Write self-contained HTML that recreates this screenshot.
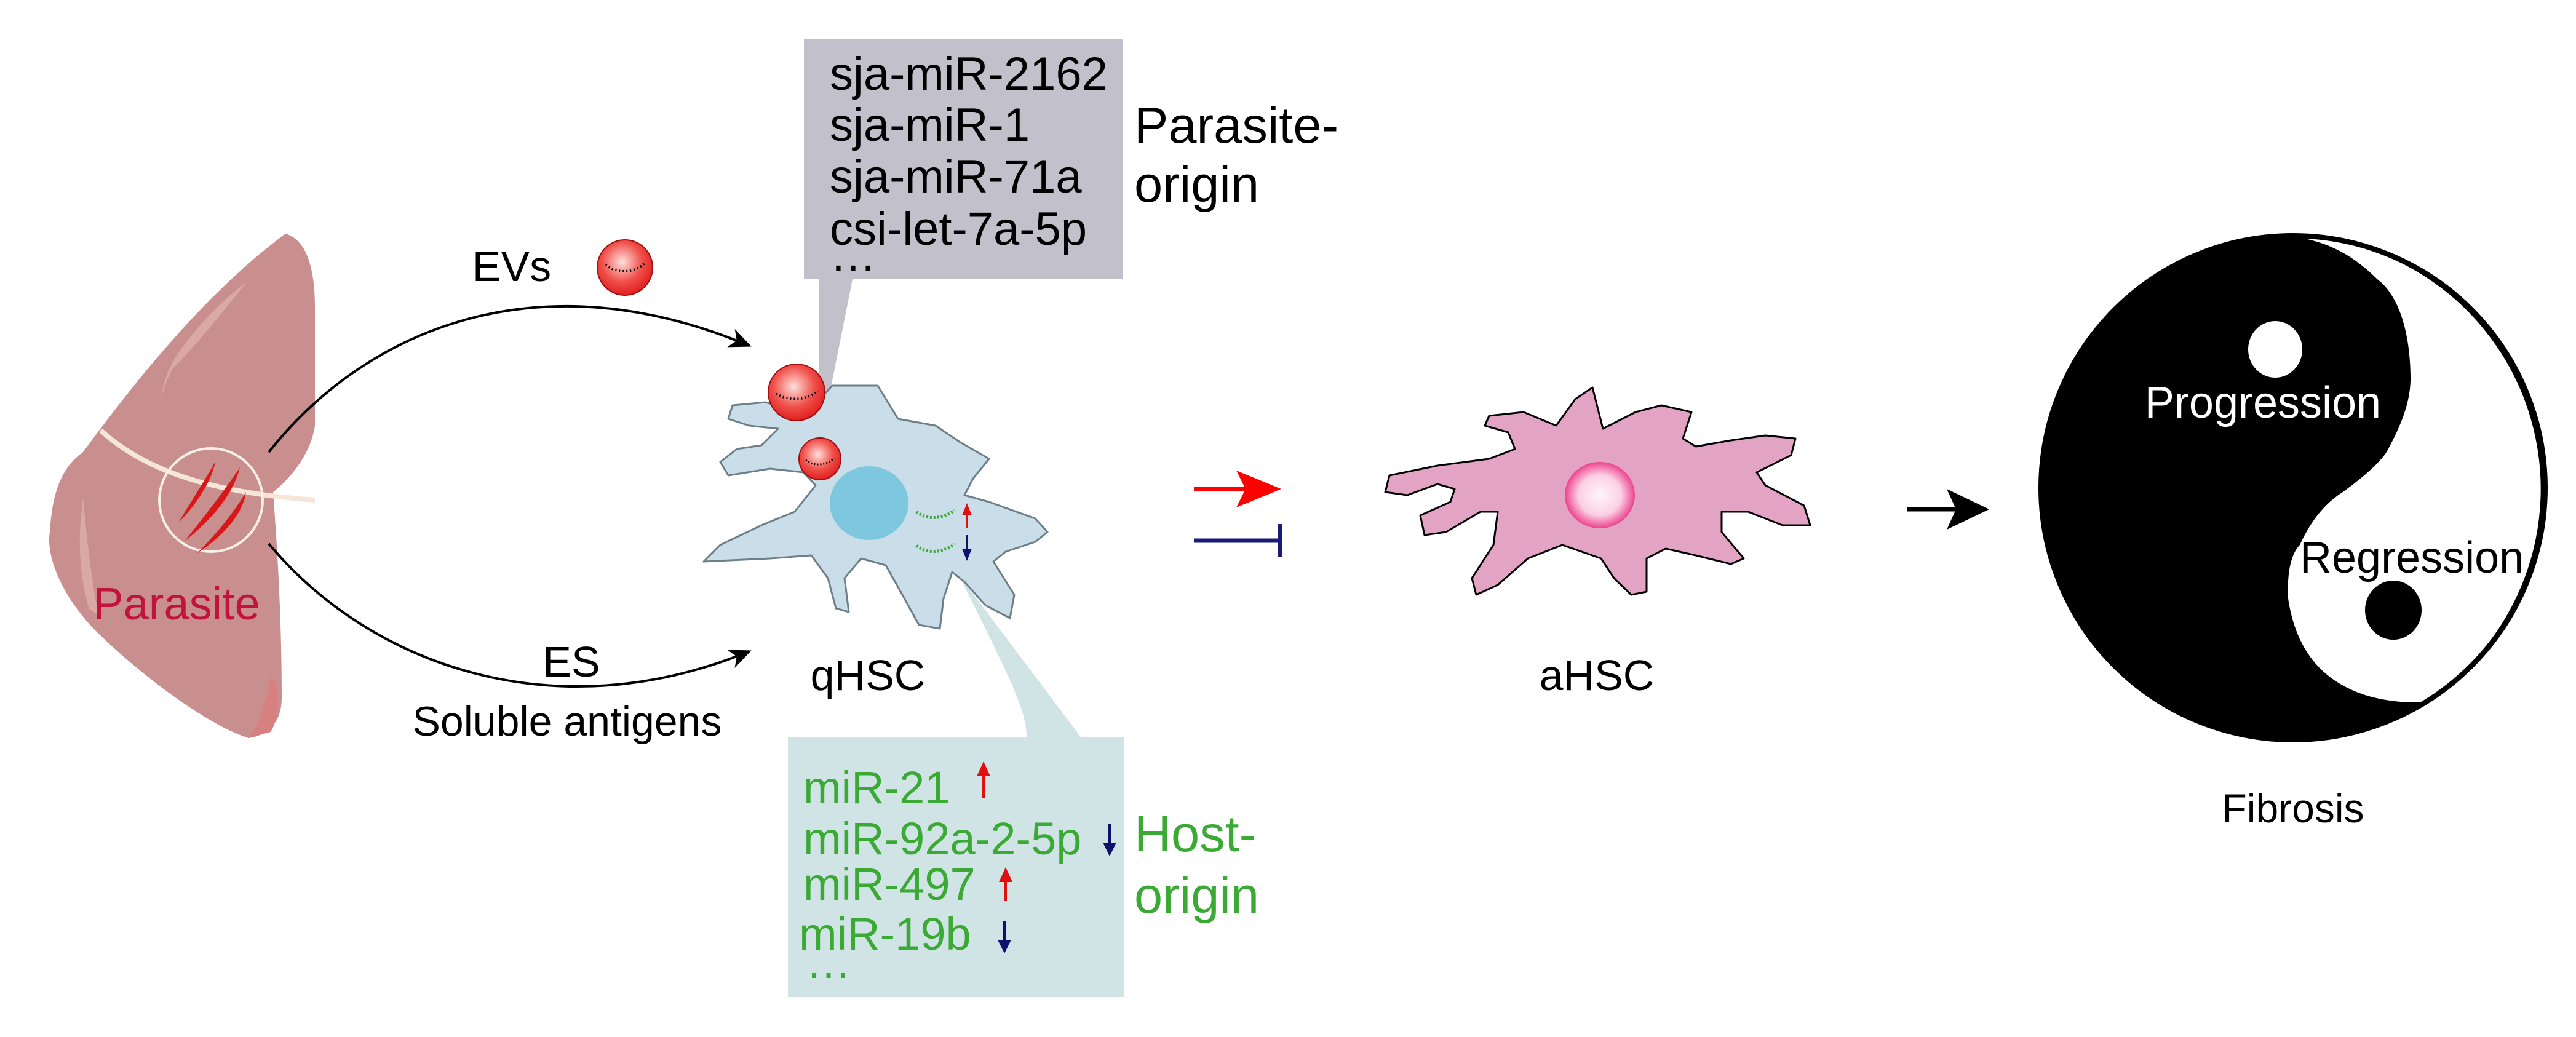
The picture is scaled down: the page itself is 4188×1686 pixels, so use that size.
<!DOCTYPE html>
<html><head><meta charset="utf-8"><style>
html,body{margin:0;padding:0;background:#fff;}
svg{display:block;}
text{font-family:"Liberation Sans",Arial,sans-serif;}
</style></head><body>
<svg width="4188" height="1686" viewBox="0 0 4188 1686" xmlns="http://www.w3.org/2000/svg">
<defs>
<radialGradient id="ev" cx="45%" cy="40%" r="60%"><stop offset="0" stop-color="#fde0dc"/><stop offset="0.6" stop-color="#f0504a"/><stop offset="1" stop-color="#e02020"/></radialGradient>
<radialGradient id="nuc" cx="50%" cy="50%" r="55%"><stop offset="0" stop-color="#fff6fa"/><stop offset="0.55" stop-color="#fbd0e4"/><stop offset="1" stop-color="#e8207a"/></radialGradient>
<marker id="ah" markerWidth="36" markerHeight="32" refX="32" refY="16" orient="auto" markerUnits="userSpaceOnUse" viewBox="0 0 36 32"><path d="M0,0 L36,16 L0,32 L10,16 z" fill="#000"/></marker>
</defs>

<!-- Liver -->
<path d="M464,380 C500,390 512,440 512,500 L512,692 C505,740 470,780 444,800 C450,880 458,1000 458,1135 C458,1170 440,1195 404,1200 C340,1180 230,1100 150,1020 C95,960 75,900 81,865 C85,800 100,760 135,735 C220,620 330,480 464,380 z" fill="#c98f8f"/>
<path d="M300,560 C330,520 370,480 400,460 C360,510 320,560 280,600 C270,620 262,640 262,660 C262,620 280,585 300,560z" fill="#dba9a4"/>
<path d="M145,990 C130,940 125,880 135,810 C140,860 145,920 160,1000z" fill="#dba9a4"/>
<path d="M404,1200 C420,1180 430,1150 440,1100 C455,1110 458,1160 440,1190z" fill="#d78080"/>
<path d="M164,700 C230,760 330,800 512,813" stroke="#f5e6d8" stroke-width="8" fill="none"/>
<circle cx="343" cy="813" r="84" fill="none" stroke="#f5efe6" stroke-width="4"/>
<path d="M290,850 C320,800 340,770 350,750 C345,780 320,820 290,850z" fill="#d81818"/>
<path d="M300,880 C340,830 370,790 390,760 C380,800 350,840 300,880z" fill="#d81818"/>
<path d="M320,900 C360,860 385,825 400,800 C395,835 365,870 320,900z" fill="#d81818"/>
<text x="287" y="1007" font-size="74" fill="#c0143c" text-anchor="middle">Parasite</text>

<!-- curved arrows -->
<path d="M437,735 C600,530 880,420 1218,562" stroke="#000" stroke-width="4" fill="none" marker-end="url(#ah)"/>
<path d="M437,884 C600,1080 900,1190 1218,1059" stroke="#000" stroke-width="4" fill="none" marker-end="url(#ah)"/>
<text x="832" y="457" font-size="70" text-anchor="middle">EVs</text>
<circle cx="1016" cy="435" r="45" fill="url(#ev)" stroke="#a01010" stroke-width="2"/>
<path d="M985,430 C1000,445 1030,445 1048,428" stroke="#000" stroke-width="4" fill="none" stroke-dasharray="2 4"/>
<text x="929" y="1100" font-size="70" text-anchor="middle">ES</text>
<text x="922" y="1196" font-size="68" text-anchor="middle">Soluble antigens</text>

<!-- parasite-origin box -->
<path d="M1307,63 L1825,63 L1825,454 L1386,454 L1330,734 L1332,454 L1307,454 z" fill="#c1c0cb"/>
<g font-size="76" fill="#000">
<text x="1349" y="146">sja-miR-2162</text>
<text x="1349" y="229">sja-miR-1</text>
<text x="1349" y="313">sja-miR-71a</text>
<text x="1349" y="398">csi-let-7a-5p</text>
<text x="1349" y="440">…</text>
</g>
<text x="1844" y="232" font-size="83">Parasite-</text>
<text x="1844" y="328" font-size="83">origin</text>

<!-- host box -->
<path d="M1281,1198 L1669,1198 C1668,1150 1640,1100 1559,935 L1757,1198 L1828,1198 L1828,1621 L1281,1621 z" fill="#d0e4e6"/>
<g font-size="74" fill="#3aaa35">
<text x="1306" y="1306">miR-21</text>
<text x="1306" y="1389">miR-92a-2-5p</text>
<text x="1306" y="1463">miR-497</text>
<text x="1299" y="1544">miR-19b</text>
<text x="1310" y="1590">…</text>
</g>
<text x="1844" y="1384" font-size="83" fill="#3aaa35">Host-</text>
<text x="1844" y="1484" font-size="83" fill="#3aaa35">origin</text>
<g stroke-width="4">
<line x1="1599" y1="1297" x2="1599" y2="1250" stroke="#e01010"/><path d="M1588,1262 L1599,1238 L1610,1262z" fill="#e01010"/>
<line x1="1804" y1="1340" x2="1804" y2="1380" stroke="#10106e"/><path d="M1793,1370 L1804,1392 L1815,1370z" fill="#10106e"/>
<line x1="1635" y1="1465" x2="1635" y2="1422" stroke="#e01010"/><path d="M1624,1434 L1635,1410 L1646,1434z" fill="#e01010"/>
<line x1="1633" y1="1497" x2="1633" y2="1538" stroke="#10106e"/><path d="M1622,1528 L1633,1550 L1644,1528z" fill="#10106e"/>
</g>

<!-- qHSC -->
<polygon points="1353,627 1427,627 1460,681 1521,692 1561,719 1608,746 1582,778 1568,805 1608,816 1683,843 1703,865 1683,881 1635,897 1615,913 1649,967 1642,1005 1602,984 1568,946 1548,930 1534,973 1528,1022 1494,1016 1467,967 1440,919 1400,908 1373,940 1380,995 1359,989 1346,940 1319,903 1252,908 1144,913 1171,886 1238,854 1292,832 1326,789 1306,768 1252,762 1184,773 1171,751 1198,730 1238,724 1265,697 1218,692 1184,681 1191,659 1245,654 1292,670 1333,649" fill="#c9dee8" stroke="#6e7f88" stroke-width="3" stroke-linejoin="round"/>
<ellipse cx="1413" cy="818" rx="64" ry="60" fill="#7ec8df"/>
<circle cx="1295" cy="638" r="46" fill="url(#ev)" stroke="#a01010" stroke-width="2"/>
<path d="M1262,640 C1280,652 1310,652 1330,636" stroke="#000" stroke-width="4" fill="none" stroke-dasharray="2 4"/>
<circle cx="1333" cy="746" r="34" fill="url(#ev)" stroke="#a01010" stroke-width="2"/>
<path d="M1310,748 C1322,758 1342,758 1356,745" stroke="#000" stroke-width="3" fill="none" stroke-dasharray="2 3"/>
<path d="M1490,832 C1505,845 1530,845 1552,830" stroke="#3aaa35" stroke-width="5" fill="none" stroke-dasharray="3 3"/>
<path d="M1490,887 C1505,900 1530,900 1552,885" stroke="#3aaa35" stroke-width="5" fill="none" stroke-dasharray="3 3"/>
<line x1="1572" y1="859" x2="1572" y2="828" stroke="#e01010" stroke-width="4"/><path d="M1564,838 L1572,818 L1580,838z" fill="#e01010"/>
<line x1="1572" y1="870" x2="1572" y2="900" stroke="#10106e" stroke-width="4"/><path d="M1564,892 L1572,912 L1580,892z" fill="#10106e"/>
<text x="1411" y="1122" font-size="70" text-anchor="middle">qHSC</text>

<!-- middle arrows -->
<line x1="1941" y1="795" x2="2050" y2="795" stroke="#ff0000" stroke-width="8"/>
<path d="M2010,765 L2083,795 L2010,825 L2025,795z" fill="#ff0000"/>
<line x1="1941" y1="879" x2="2081" y2="879" stroke="#1a1a7a" stroke-width="7"/>
<line x1="2081" y1="852" x2="2081" y2="906" stroke="#1a1a7a" stroke-width="7"/>

<!-- aHSC -->
<polygon points="2589,630 2606,697 2659,670 2701,659 2750,670 2736,713 2757,726 2814,716 2870,708 2919,713 2912,740 2856,768 2870,789 2933,822 2943,854 2898,854 2842,832 2799,832 2799,865 2835,908 2814,917 2757,903 2708,892 2677,908 2677,962 2652,967 2624,940 2603,908 2540,886 2484,908 2435,951 2400,967 2393,940 2428,886 2435,832 2407,832 2351,865 2316,870 2309,838 2358,816 2365,795 2337,787 2288,805 2252,800 2259,773 2337,757 2421,746 2463,730 2452,703 2414,692 2421,676 2477,670 2530,692 2561,649" fill="#e3a3c4" stroke="#000" stroke-width="3" stroke-linejoin="round"/>
<ellipse cx="2601" cy="805" rx="57" ry="54" fill="url(#nuc)"/>
<text x="2596" y="1122" font-size="70" text-anchor="middle">aHSC</text>

<!-- black arrow -->
<line x1="3101" y1="828" x2="3200" y2="828" stroke="#000" stroke-width="7"/>
<path d="M3165,795 L3234,828 L3165,861 L3180,828z" fill="#000"/>

<!-- yin yang -->
<circle cx="3728" cy="793" r="411" fill="#000" stroke="#000" stroke-width="6"/>
<path d="M3725,384 A411,411 0 0,1 3943,1140 C3920,1145 3860,1140 3820,1120 C3760,1092 3730,1040 3720,973 C3718,930 3725,900 3739,886 C3760,840 3785,815 3809,800 C3850,770 3870,750 3880,735 C3905,690 3920,650 3919,611 C3918,540 3900,480 3865,454 C3820,410 3780,392 3725,384 z" fill="#fff"/>
<circle cx="3728" cy="793" r="409" fill="none" stroke="#000" stroke-width="7"/>
<ellipse cx="3699" cy="568" rx="44" ry="46" fill="#fff"/>
<ellipse cx="3891" cy="992" rx="46" ry="48" fill="#000"/>
<text x="3679" y="679" font-size="72" fill="#fff" text-anchor="middle">Progression</text>
<text x="3739" y="931" font-size="72" fill="#000">Regression</text>
<text x="3728" y="1337" font-size="66" text-anchor="middle">Fibrosis</text>
</svg>
</body></html>
